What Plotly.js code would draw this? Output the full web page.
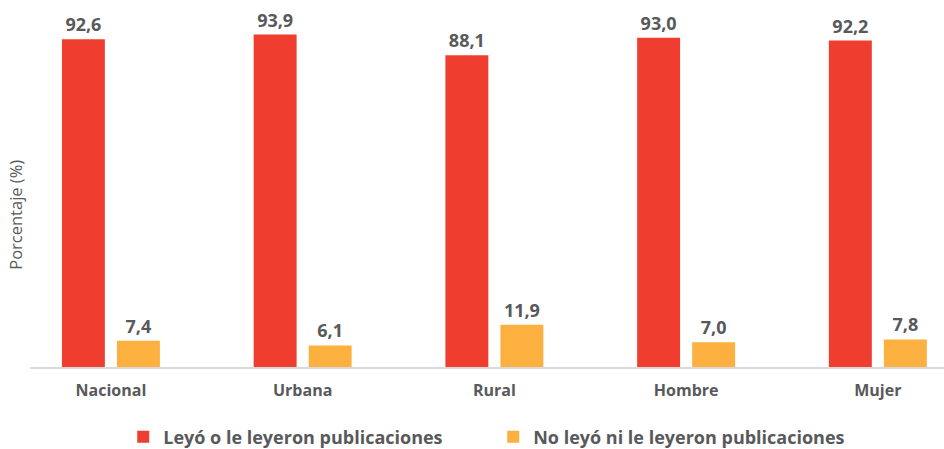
<!DOCTYPE html>
<html><head><meta charset="utf-8">
<script src="https://cdn.plot.ly/plotly-3.0.1.min.js"></script>
<style>html,body{margin:0;padding:0;background:#fff}#chart{width:944px;height:449px}</style>
</head><body><div id="chart"></div>
<script>
const categories = ["Nacional", "Urbana", "Rural", "Hombre", "Mujer"];
const leyo = [92.6, 93.9, 88.1, 93.0, 92.2];
const noLeyo = [7.4, 6.1, 11.9, 7.0, 7.8];
const seriesNames = ["Leyó o le leyeron publicaciones", "No leyó ni le leyeron publicaciones"];
const yTitle = "Porcentaje (%)";

const FONT = "'Open Sans', sans-serif";
const GRAY = "#58595B";
const common = {
  type: "bar", x: categories, width: 0.224,
  textposition: "outside", texttemplate: "%{y:.1f}", cliponaxis: false,
  textfont: {family: FONT, size: 18, color: GRAY, weight: 700},
  hoverinfo: "skip"
};
const traces = [
  Object.assign({}, common, {y: leyo, name: seriesNames[0], offset: -0.2555, marker: {color: "#EF3E2F"}}),
  Object.assign({}, common, {y: noLeyo, name: seriesNames[1], offset: 0.0315, marker: {color: "#FBB040"}})
];
const layout = {
  width: 944, height: 449,
  margin: {l: 30, r: 0, t: 13, b: 82, autoexpand: false},
  separators: ",.",
  paper_bgcolor: "#fff", plot_bgcolor: "#fff",
  barmode: "group",
  showlegend: true,
  legend: {orientation: "h", x: 0.102, xanchor: "left", y: -0.198, yanchor: "middle",
    font: {family: FONT, size: 18, color: GRAY, weight: 700}, entrywidth: 325, entrywidthmode: "pixels"},
  xaxis: {type: "category", range: [-0.422, 4.345], showline: true, linecolor: "#D9D9D9", linewidth: 2,
    ticks: "", showgrid: false, zeroline: false, ticklabelstandoff: 8,
    tickfont: {family: FONT, size: 16, color: GRAY, weight: 700}},
  yaxis: {range: [0, 100], showticklabels: false, showgrid: false, zeroline: false, ticks: "", showline: false},
  annotations: [{text: yTitle, xref: "paper", yref: "paper", x: -0.0153, y: 0.43, xanchor: "center", yanchor: "middle",
    textangle: -90, showarrow: false, font: {family: FONT, size: 16.5, color: GRAY}}]
};
Plotly.newPlot("chart", traces, layout, {displayModeBar: false, staticPlot: true});
</script></body></html>
